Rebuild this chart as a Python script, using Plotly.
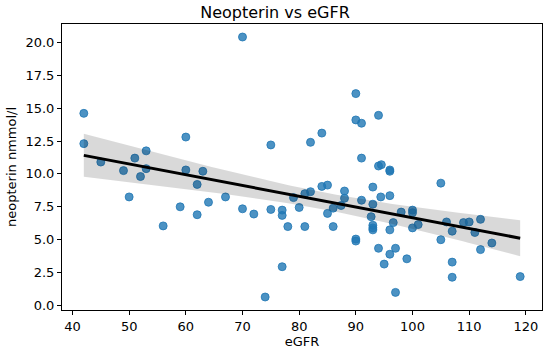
import numpy as np
import plotly.graph_objects as go

egfr = [42, 42, 45, 49, 50, 51, 52, 53, 53, 56, 59, 60, 60, 62, 62, 63, 64, 67,
        70, 70, 72, 74, 75, 75, 77, 77, 77, 78, 79, 80, 81, 81, 82, 82, 84, 84,
        85, 85, 86, 86, 87.4, 88, 88, 90, 90, 90, 90, 91, 91, 91, 92.7, 93, 93,
        93, 93, 93, 94, 94, 94.5, 94.4, 94, 95, 96, 96, 96, 96, 96, 96.6, 97, 97,
        98, 99, 100, 100, 100, 101, 105, 105, 106, 107, 107, 107, 109, 110, 111,
        112, 112, 114, 119]
neopterin = [14.6, 12.3, 10.9, 10.25, 8.25, 11.2, 9.8, 11.75, 10.4, 6.05, 7.5, 12.8,
             10.3, 9.2, 6.9, 10.2, 7.85, 8.25, 20.4, 7.35, 6.95, 0.65, 12.2, 7.3,
             7.25, 6.85, 2.95, 6.0, 8.2, 7.45, 8.5, 6.0, 12.4, 8.65, 13.1, 9.05,
             9.15, 7.0, 7.4, 6.0, 7.6, 8.7, 8.15, 16.1, 14.1, 5.05, 4.9, 13.85,
             11.2, 8.0, 6.75, 9.0, 7.7, 6.1, 5.9, 5.75, 14.45, 10.6, 10.7, 8.25,
             4.35, 3.15, 10.3, 10.2, 8.35, 5.75, 3.9, 6.3, 4.35, 1.0, 7.1, 3.55,
             7.25, 7.05, 5.9, 6.15, 9.3, 5.0, 6.35, 5.65, 3.3, 2.15, 6.3, 6.35,
             5.55, 6.55, 4.25, 4.75, 2.2]
x_ticks = [40, 50, 60, 70, 80, 90, 100, 110, 120]
y_ticks = [0.0, 2.5, 5.0, 7.5, 10.0, 12.5, 15.0, 17.5, 20.0]

x = np.array(egfr, dtype=float)
y = np.array(neopterin, dtype=float)
n = len(x)
slope, intercept = np.polyfit(x, y, 1)
grid = np.linspace(x.min(), x.max(), 100)
fit = intercept + slope * grid
resid = y - (intercept + slope * x)
s = np.sqrt(np.sum(resid ** 2) / (n - 2))
sxx = np.sum((x - x.mean()) ** 2)
t_val = 1.987
half = t_val * s * np.sqrt(1.0 / n + (grid - x.mean()) ** 2 / sxx)

font = "DejaVu Sans, Liberation Sans, sans-serif"
fig = go.Figure()
fig.add_trace(go.Scatter(
    x=x, y=y, mode="markers",
    marker=dict(size=8, color="rgba(31,119,180,0.8)",
                line=dict(width=1, color="rgba(31,119,180,0.8)")),
    showlegend=False, hoverinfo="x+y"))
fig.add_trace(go.Scatter(x=grid, y=fit - half, mode="lines", line=dict(width=0),
                         showlegend=False, hoverinfo="skip"))
fig.add_trace(go.Scatter(x=grid, y=fit + half, mode="lines", line=dict(width=0),
                         fill="tonexty", fillcolor="rgba(0,0,0,0.15)",
                         showlegend=False, hoverinfo="skip"))
fig.add_trace(go.Scatter(x=grid, y=fit, mode="lines",
                         line=dict(color="black", width=3),
                         showlegend=False))

xr = x.max() - x.min()
yr = y.max() - y.min()
fig.update_layout(
    width=550, height=357,
    margin=dict(l=62, r=8, t=24, b=47),
    paper_bgcolor="white", plot_bgcolor="white",
    font=dict(family=font, size=13, color="black"),
    title=dict(text="Neopterin vs eGFR", x=0.5, xanchor="center",
               y=1 - 12 / 357, yanchor="middle",
               font=dict(size=16, color="black", family=font)),
)
fig.update_xaxes(
    automargin=False,
    range=[x.min() - 0.05 * xr, x.max() + 0.05 * xr],
    tickmode="array", tickvals=x_ticks, ticktext=[str(v) for v in x_ticks],
    ticks="outside", ticklen=4, tickwidth=1, tickcolor="black",
    showline=True, linecolor="black", linewidth=1, mirror=True,
    showgrid=False, zeroline=False,
    title=dict(text="eGFR", font=dict(size=13), standoff=2),
)
fig.update_yaxes(
    automargin=False,
    range=[y.min() - 0.05 * yr, y.max() + 0.05 * yr],
    tickmode="array", tickvals=y_ticks, ticktext=[f"{v:.1f}" for v in y_ticks],
    ticks="outside", ticklen=4, tickwidth=1, tickcolor="black",
    showline=True, linecolor="black", linewidth=1, mirror=True,
    showgrid=False, zeroline=False,
    title=dict(text="neopterin nmmol/l", font=dict(size=13), standoff=5),
)
fig.write_html("out.html", config={"displayModeBar": False})

with open("out.html", "r", encoding="utf-8") as f:
    html = f.read()
html = html.replace("<body>", '<body style="margin:0;padding:0;overflow:hidden">', 1)
with open("out.html", "w", encoding="utf-8") as f:
    f.write(html)
